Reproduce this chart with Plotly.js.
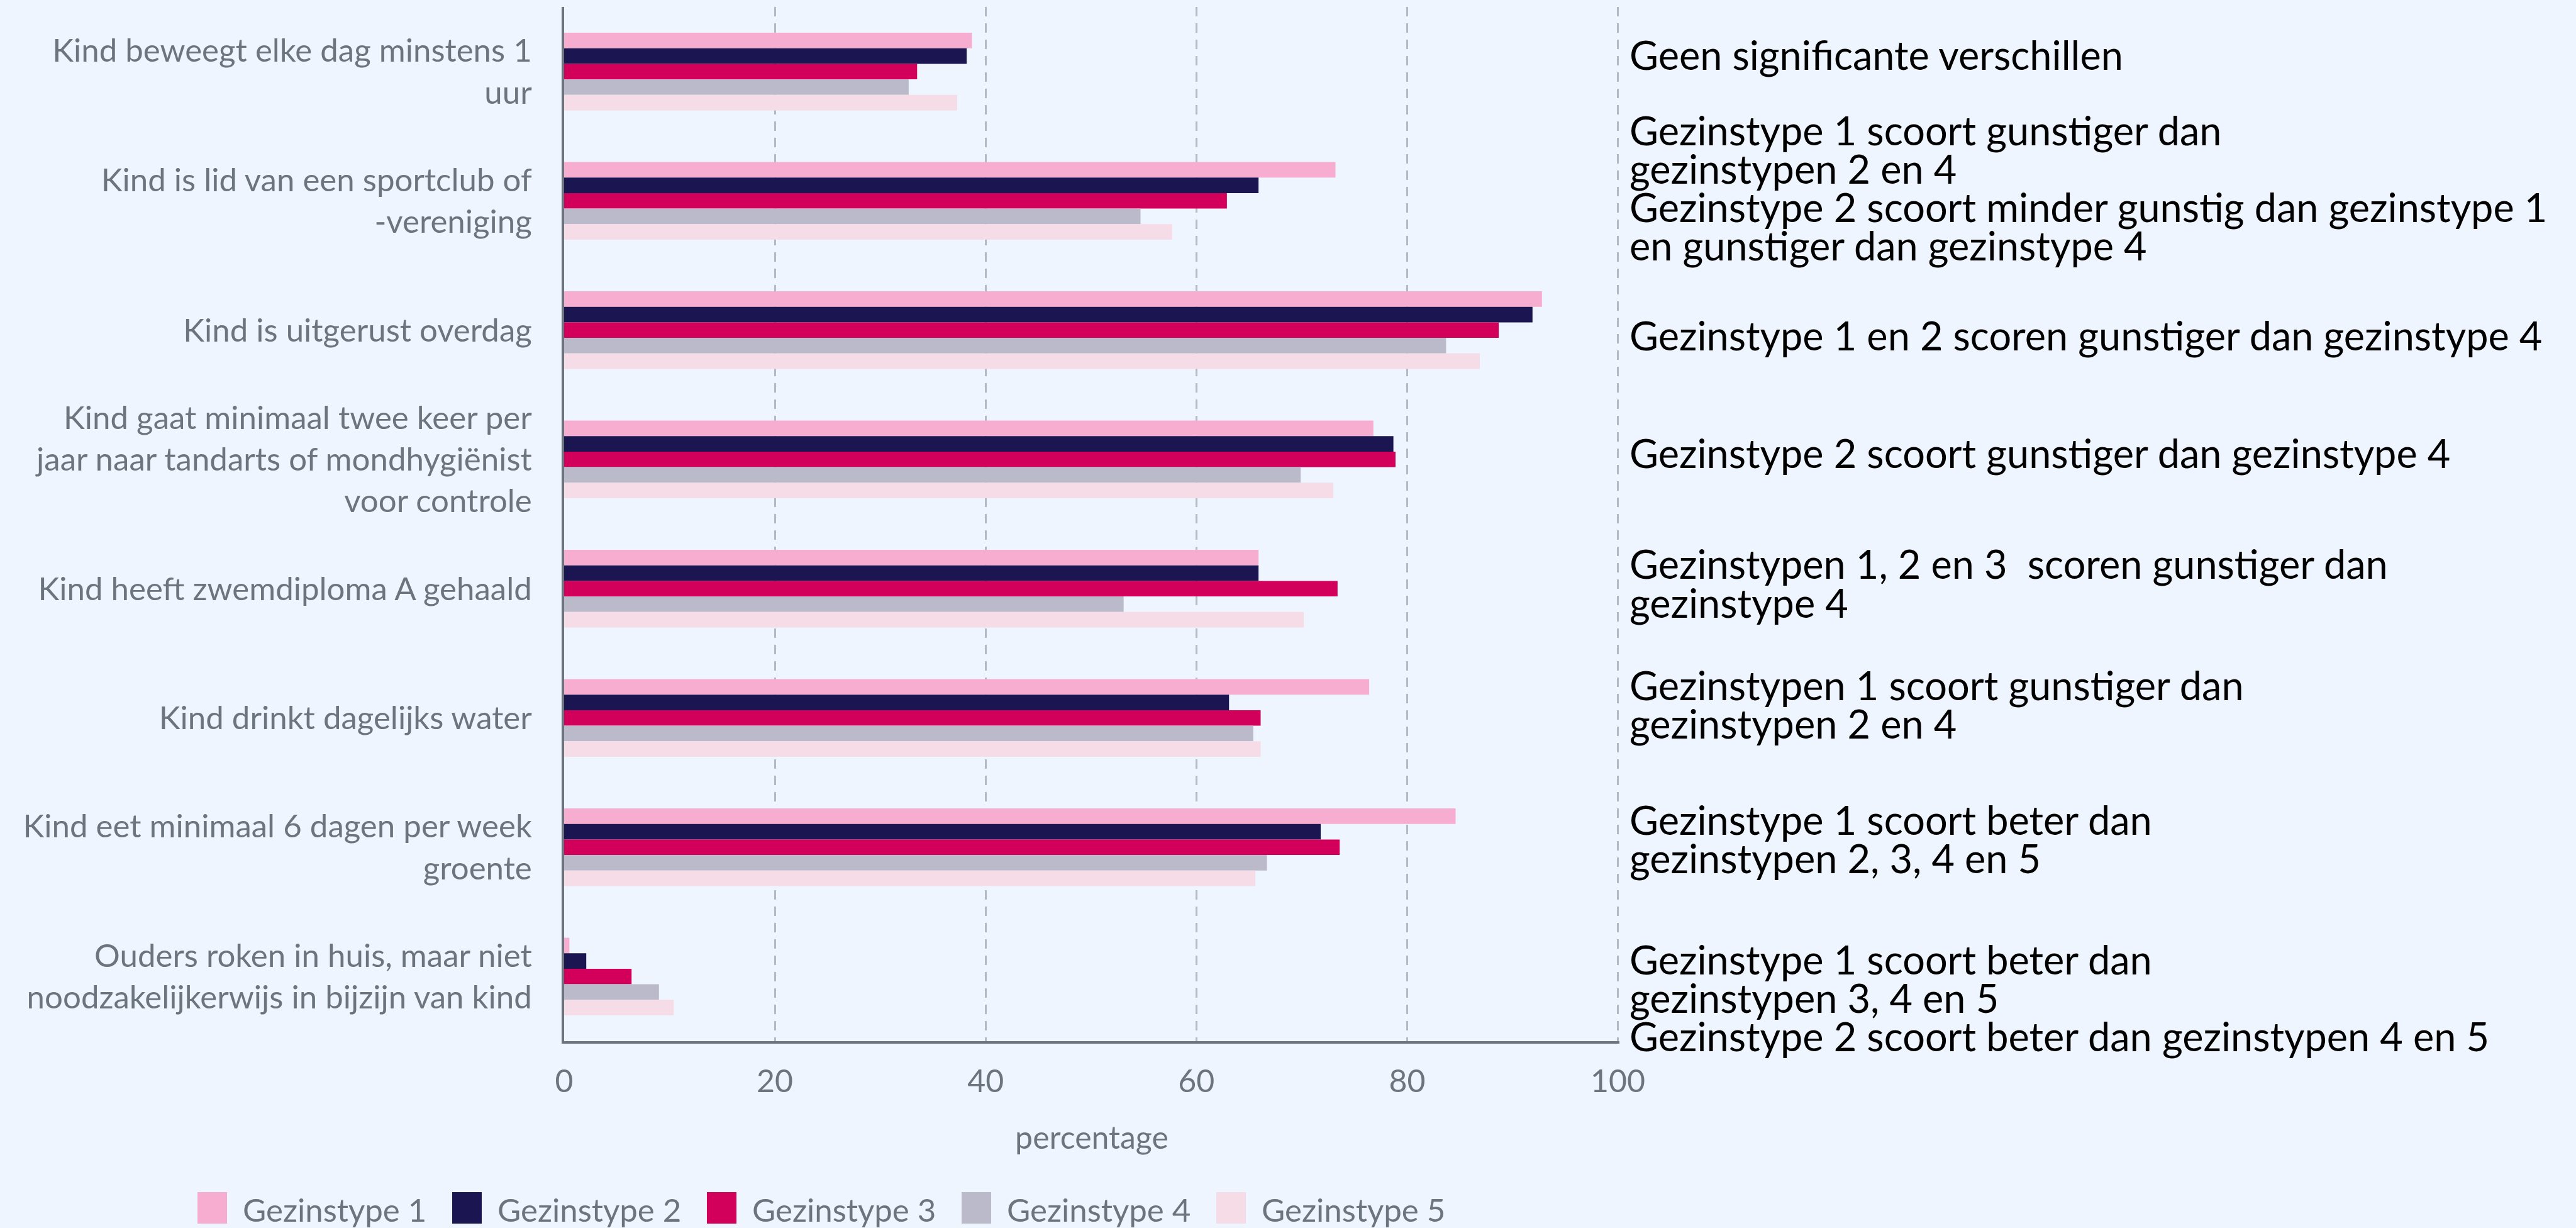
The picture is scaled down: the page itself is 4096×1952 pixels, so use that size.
<!DOCTYPE html>
<html>
<head>
<meta charset="utf-8">
<script src="https://cdn.plot.ly/plotly-3.0.1.min.js"></script>
<style>
  html, body { margin: 0; padding: 0; background: #EEF5FF; }
  #chart { width: 4096px; height: 1952px; }
</style>
</head>
<body>
<div id="chart"></div>
<script>
// ---------- DATA ----------
const categories = [
  "Kind beweegt elke dag minstens 1<br>uur",
  "Kind is lid van een sportclub of<br>-vereniging",
  "Kind is uitgerust overdag",
  "Kind gaat minimaal twee keer per<br>jaar naar tandarts of mondhygiënist<br>voor controle",
  "Kind heeft zwemdiploma A gehaald",
  "Kind drinkt dagelijks water",
  "Kind eet minimaal 6 dagen per week<br>groente",
  "Ouders roken in huis, maar niet<br>noodzakelijkerwijs in bijzijn van kind"
];
const seriesNames = ["Gezinstype 1", "Gezinstype 2", "Gezinstype 3", "Gezinstype 4", "Gezinstype 5"];
const gezinstype1 = [38.7, 73.2, 92.8, 76.8, 65.9, 76.4, 84.6, 0.5];
const gezinstype2 = [38.2, 65.9, 91.9, 78.7, 65.9, 63.1, 71.8, 2.1];
const gezinstype3 = [33.5, 62.9, 88.7, 78.9, 73.4, 66.1, 73.6, 6.4];
const gezinstype4 = [32.7, 54.7, 83.7, 69.9, 53.1, 65.4, 66.7, 9.0];
const gezinstype5 = [37.3, 57.7, 86.9, 73.0, 70.2, 66.1, 65.6, 10.4];
const xTickValues = [0, 20, 40, 60, 80, 100];
const xTitle = "percentage";
const notes = [
  ["Geen significante verschillen"],
  ["Gezinstype 1 scoort gunstiger dan", "gezinstypen 2 en 4", "Gezinstype 2 scoort minder gunstig dan gezinstype 1", "en gunstiger dan gezinstype 4"],
  ["Gezinstype 1 en 2 scoren gunstiger dan gezinstype 4"],
  ["Gezinstype 2 scoort gunstiger dan gezinstype 4"],
  ["Gezinstypen 1, 2 en 3&nbsp; scoren gunstiger dan", "gezinstype 4"],
  ["Gezinstypen 1 scoort gunstiger dan", "gezinstypen 2 en 4"],
  ["Gezinstype 1 scoort beter dan", "gezinstypen 2, 3, 4 en 5"],
  ["Gezinstype 1 scoort beter dan", "gezinstypen 3, 4 en 5", "Gezinstype 2 scoort beter dan gezinstypen 4 en 5"]
];

// ---------- STYLE / LAYOUT ----------
const seriesValues = [gezinstype1, gezinstype2, gezinstype3, gezinstype4, gezinstype5];
const colors = ["#F7ADCF", "#1B1652", "#D2005A", "#BBBACB", "#F5DCE6"];
const FONT = "Lato, sans-serif";
const GREY = "#6C757D";
const BG = "#EEF5FF";

const W = 4096, H = 1952;
const plotLeft = 897, plotRight = 2575, plotTop = 11, plotBottom = 1655;
const plotW = plotRight - plotLeft, plotH = plotBottom - plotTop;
const px2x = px => (px - plotLeft) / plotW;
const py2y = py => (plotBottom - py) / plotH;

// first-line vertical centre (px) of each note block, and line spacing
const noteFirstLine = [86, 206, 532, 720, 896, 1088, 1302, 1524];
const noteLineGap = 61;

const traces = seriesValues.map((vals, i) => ({
  type: "bar",
  orientation: "h",
  name: seriesNames[i],
  y: categories,
  x: vals,
  marker: { color: colors[i], line: { width: 0 } },
  showlegend: false,
  hoverinfo: "skip"
}));

const annotations = [];
notes.forEach((lines, ci) => {
  lines.forEach((txt, li) => {
    annotations.push({
      xref: "paper", yref: "paper",
      x: 1, xshift: 14,
      y: py2y(noteFirstLine[ci] + li * noteLineGap),
      xanchor: "left", yanchor: "middle",
      text: txt, showarrow: false, align: "left",
      font: { family: FONT, size: 63, color: "#000000" }
    });
  });
});

// legend (custom, to get the large swatches)
const shapes = [];
const legLeft0 = 314, legStep = 405, legCy = 1920, swW = 47, swH = 50;
seriesNames.forEach((nm, i) => {
  const l = legLeft0 + i * legStep;
  shapes.push({
    type: "rect", xref: "paper", yref: "paper",
    x0: px2x(l), x1: px2x(l + swW),
    y0: py2y(legCy + swH / 2), y1: py2y(legCy - swH / 2),
    fillcolor: colors[i], line: { width: 0 }, layer: "above"
  });
  annotations.push({
    xref: "paper", yref: "paper",
    x: px2x(l + 70), y: py2y(legCy + 2),
    xanchor: "left", yanchor: "middle",
    text: nm, showarrow: false,
    font: { family: FONT, size: 51, color: GREY }
  });
});

const layout = {
  width: W, height: H,
  margin: { l: plotLeft, r: W - plotRight, t: plotTop, b: H - plotBottom, pad: 0 },
  paper_bgcolor: BG, plot_bgcolor: BG,
  font: { family: FONT, color: GREY },
  barmode: "group", bargap: 0.4, bargroupgap: 0,
  showlegend: false,
  xaxis: {
    range: [0, 100.15], tickvals: xTickValues, ticktext: xTickValues.map(String),
    showgrid: true, gridcolor: "#B3BAC2", gridwidth: 3, griddash: "15px,11px",
    zeroline: false, showline: true, linecolor: GREY, linewidth: 4,
    ticks: "", ticklabelstandoff: 17,
    tickfont: { family: FONT, size: 50, color: GREY },
    title: { text: xTitle, standoff: 46, font: { family: FONT, size: 50, color: GREY } },
    automargin: false, fixedrange: true
  },
  yaxis: {
    type: "category", autorange: "reversed",
    showgrid: false, zeroline: false, showline: true, linecolor: GREY, linewidth: 4,
    ticks: "", ticklabelstandoff: 37,
    tickfont: { family: FONT, size: 51, color: GREY },
    automargin: false, fixedrange: true
  },
  annotations: annotations,
  shapes: shapes
};

Plotly.newPlot("chart", traces, layout, { displayModeBar: false, staticPlot: true });
</script>
</body>
</html>
